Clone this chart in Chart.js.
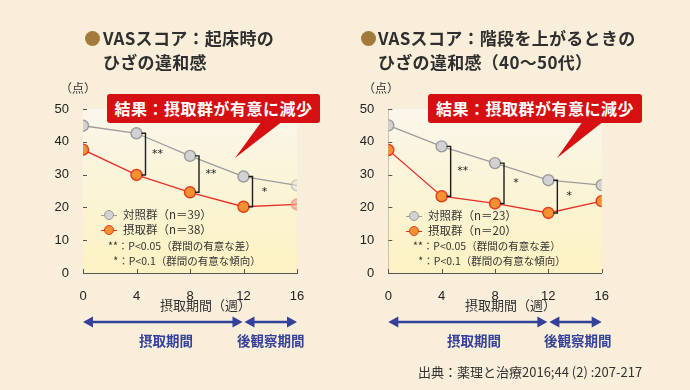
<!DOCTYPE html>
<html lang="ja">
<head>
<meta charset="UTF-8">
<title>VASスコア</title>
<script src="https://cdn.jsdelivr.net/npm/chart.js"></script>
<style>
  html, body { margin: 0; padding: 0; }
  body { width: 690px; height: 390px; background: #F8EEDA; position: relative; overflow: hidden;
         font-family: "Noto Sans CJK JP", "Noto Sans", sans-serif; color: #2a2a2a; }
  canvas { position: absolute; top: 0; }
  .abs { position: absolute; white-space: nowrap; }
  .title { font-size: 17px; font-weight: bold; letter-spacing: 0.3px; line-height: 24px; color: #2f2f2f; }
  .dot { display: inline-block; width: 15px; height: 15px; border-radius: 50%; background: #A27B3C; position: absolute; }
  .unit { font-size: 12px; color: #333; }
  .callout { background: #D50F12; color: #fff; font-size: 16px; font-weight: bold; letter-spacing: 0.5px;
             border-radius: 3px; height: 29px; line-height: 29px; text-align: center; }
  .leg { font-size: 11.5px; color: #333; line-height: 15px; }
  .mk { display: inline-block; position: relative; width: 16px; height: 10px; vertical-align: -1px; margin-right: 6px; }
  .mk i { position: absolute; left: 0; right: 0; top: 4.5px; height: 1.2px; }
  .mk b { position: absolute; left: 3px; top: 0; width: 8px; height: 8px; border-radius: 50%; }
  .note { font-size: 10.5px; color: #333; }
  .period { font-size: 13.5px; color: #34419A; font-weight: bold; }
  .src { font-size: 13px; color: #333; }
</style>
</head>
<body>
<canvas id="c1" width="345" height="390" style="left:0"></canvas>
<canvas id="c2" width="345" height="390" style="left:345px"></canvas>

<!-- titles -->
<span class="dot" style="left:85px;top:31px"></span>
<div class="abs title" style="left:103px;top:26px">VASスコア：起床時の<br>ひざの違和感</div>
<span class="dot" style="left:361px;top:31px"></span>
<div class="abs title" style="left:378px;top:26px">VASスコア：階段を上がるときの<br>ひざの違和感（40～50代）</div>

<div class="abs unit" style="left:60px;top:79px">（点）</div>
<div class="abs unit" style="left:363px;top:79px">（点）</div>

<!-- callouts -->
<svg class="abs" width="690" height="390" style="left:0;top:0">
  <polygon points="262,121 283,121 235,158" fill="#D50F12"/>
  <polygon points="583,121 604,121 557,158" fill="#D50F12"/>
</svg>
<div class="abs callout" style="left:107px;top:94px;width:213px">結果：摂取群が有意に減少</div>
<div class="abs callout" style="left:428px;top:94px;width:214px">結果：摂取群が有意に減少</div>

<!-- legends -->
<div class="abs leg" style="left:101px;top:207px">
  <div><span class="mk"><i style="background:#9c9c9c"></i><b style="background:#d2d2d4;border:1.3px solid #9a9a9a"></b></span>対照群（n＝39）</div>
  <div><span class="mk"><i style="background:#e8302a"></i><b style="background:#f39230;border:1.3px solid #e53a1e"></b></span>摂取群（n＝38）</div>
</div>
<div class="abs note" style="left:108px;top:238px">**：P&lt;0.05（群間の有意な差）</div>
<div class="abs note" style="left:111px;top:253px">&nbsp;*：P&lt;0.1（群間の有意な傾向）</div>

<div class="abs leg" style="left:406px;top:208px">
  <div><span class="mk"><i style="background:#9c9c9c"></i><b style="background:#d2d2d4;border:1.3px solid #9a9a9a"></b></span>対照群（n＝23）</div>
  <div><span class="mk"><i style="background:#e8302a"></i><b style="background:#f39230;border:1.3px solid #e53a1e"></b></span>摂取群（n＝20）</div>
</div>
<div class="abs note" style="left:413px;top:238px">**：P&lt;0.05（群間の有意な差）</div>
<div class="abs note" style="left:416px;top:253px">&nbsp;*：P&lt;0.1（群間の有意な傾向）</div>

<!-- axis titles and periods -->
<div class="abs unit" style="left:160px;top:295px;font-size:13px">摂取期間（週）</div>
<div class="abs unit" style="left:465px;top:295px;font-size:13px">摂取期間（週）</div>
<div class="abs period" style="left:139px;top:330px">摂取期間</div>
<div class="abs period" style="left:237px;top:330px">後観察期間</div>
<div class="abs period" style="left:447px;top:330px">摂取期間</div>
<div class="abs period" style="left:544px;top:330px">後観察期間</div>

<div class="abs src" style="left:418px;top:362px">出典：薬理と治療2016;44 (2) :207-217</div>

<script>
// data
const weeks = [0, 4, 8, 12, 16];
const yTicks = [0, 10, 20, 30, 40, 50];

const controlA = [44.9, 42.6, 35.7, 29.4, 26.7];   // 起床時 対照群
const intakeA  = [37.6, 29.9, 24.6, 20.2, 20.9];   // 起床時 摂取群
const controlB = [45.0, 38.6, 33.5, 28.3, 26.8];   // 階段 対照群
const intakeB  = [37.5, 23.4, 21.2, 18.3, 21.9];   // 階段 摂取群

const sigWeeks = [4, 8, 12];
const sigA = ['**', '**', '*'];
const sigB = ['**', '*', '*'];

const intakeWeeks = [0, 12];
const followWeeks = [12, 16];

// plot area background, inner ticks, brackets, period arrows
const extras = {
  id: 'extras',
  beforeDatasetsDraw(chart) {
    const { ctx, chartArea: a } = chart;
    const g = ctx.createLinearGradient(0, a.top, 0, a.bottom);
    g.addColorStop(0, '#FAF6EA');
    g.addColorStop(1, '#FCF2C2');
    ctx.save();
    ctx.fillStyle = g;
    ctx.fillRect(a.left, a.top, a.right - a.left, a.bottom - a.top);
    ctx.restore();
  },
  afterDraw(chart, args, opts) {
    const { ctx, chartArea: a, scales: { x, y } } = chart;
    ctx.save();
    // ticks pointing inward
    ctx.strokeStyle = '#555';
    ctx.lineWidth = 1;
    ctx.beginPath();
    yTicks.forEach(v => { const p = Math.round(y.getPixelForValue(v)) + 0.5; ctx.moveTo(a.left, p); ctx.lineTo(a.left + 4, p); });
    weeks.forEach(v => { const p = Math.round(x.getPixelForValue(v)) + 0.5; ctx.moveTo(p, a.bottom); ctx.lineTo(p, a.bottom - 4); });
    ctx.stroke();

    // significance brackets
    const c = opts.control, t = opts.intake;
    ctx.strokeStyle = '#1e1e1e';
    ctx.lineWidth = 1.4;
    ctx.fillStyle = '#222';
    ctx.font = '11px "DejaVu Sans"';
    ctx.textAlign = 'center';
    ctx.textBaseline = 'middle';
    sigWeeks.forEach((w, i) => {
      const k = weeks.indexOf(w);
      const px = x.getPixelForValue(w), bx = px + 9;
      const y1 = y.getPixelForValue(c[k]), y2 = y.getPixelForValue(t[k]);
      ctx.beginPath();
      ctx.moveTo(px + 5, y1); ctx.lineTo(bx, y1); ctx.lineTo(bx, y2); ctx.lineTo(px + 5, y2);
      ctx.stroke();
      ctx.fillText(opts.marks[i], px + 21, (y1 + y2) / 2);
    });

    // period arrows
    const ay = 322;
    ctx.strokeStyle = '#34419A';
    ctx.fillStyle = '#34419A';
    ctx.lineWidth = 2.5;
    const arrow = (x0, x1) => {
      ctx.beginPath();
      ctx.moveTo(x0 + 6, ay); ctx.lineTo(x1 - 6, ay); ctx.stroke();
      [[x0, 1], [x1, -1]].forEach(([hx, d]) => {
        ctx.beginPath();
        ctx.moveTo(hx, ay); ctx.lineTo(hx + d * 10, ay - 5.5); ctx.lineTo(hx + d * 10, ay + 5.5);
        ctx.closePath(); ctx.fill();
      });
    };
    arrow(x.getPixelForValue(intakeWeeks[0]), x.getPixelForValue(intakeWeeks[1]) - 1);
    arrow(x.getPixelForValue(followWeeks[0]) + 1, x.getPixelForValue(followWeeks[1]));
    ctx.restore();
  }
};

function makeChart(id, control, intake, marks, fadeLast, padLeft, padRight) {
  const n = weeks.length;
  const fade = (base, faded) => weeks.map((_, i) => (fadeLast && i === n - 1) ? faded : base);
  return new Chart(document.getElementById(id), {
    type: 'line',
    data: {
      datasets: [
        {
          label: '対照群',
          data: control.map((v, i) => ({ x: weeks[i], y: v })),
          borderColor: '#9c9c9c',
          borderWidth: 1.3,
          pointRadius: 5.5,
          pointBorderWidth: 1.4,
          pointBackgroundColor: fade('#d2d2d4', 'rgba(228,228,228,0.6)'),
          pointBorderColor: fade('#9a9a9a', 'rgba(170,170,170,0.6)')
        },
        {
          label: '摂取群',
          data: intake.map((v, i) => ({ x: weeks[i], y: v })),
          borderColor: '#e8302a',
          borderWidth: 1.3,
          pointRadius: 5.5,
          pointBorderWidth: 1.4,
          pointBackgroundColor: fade('#f39230', 'rgba(244,165,150,0.7)'),
          pointBorderColor: fade('#e53a1e', 'rgba(240,140,120,0.7)')
        }
      ]
    },
    options: {
      responsive: false,
      animation: false,
      devicePixelRatio: 1,
      layout: { padding: { left: padLeft, right: padRight, top: 109, bottom: 87 } },
      plugins: { legend: { display: false }, tooltip: { enabled: false }, extras: { marks, control, intake } },
      scales: {
        x: {
          type: 'linear', min: 0, max: 16,
          afterBuildTicks: s => { s.ticks = weeks.map(v => ({ value: v })); },
          afterFit: s => { s.height = 30; },
          ticks: { color: '#222', font: { size: 13, family: 'Liberation Sans' }, padding: 8 },
          grid: { display: false },
          border: { color: '#555', width: 1 }
        },
        y: {
          min: 0, max: 50,
          afterBuildTicks: s => { s.ticks = yTicks.map(v => ({ value: v })); },
          afterFit: s => { s.width = 40; },
          ticks: { color: '#222', font: { size: 13, family: 'Liberation Sans' }, padding: 6 },
          grid: { display: false },
          border: { color: '#555', width: 1 }
        }
      }
    },
    plugins: [extras]
  });
}

makeChart('c1', controlA, intakeA, sigA, true, 43, 48);
makeChart('c2', controlB, intakeB, sigB, false, 3.3, 88.3);
</script>
</body>
</html>
